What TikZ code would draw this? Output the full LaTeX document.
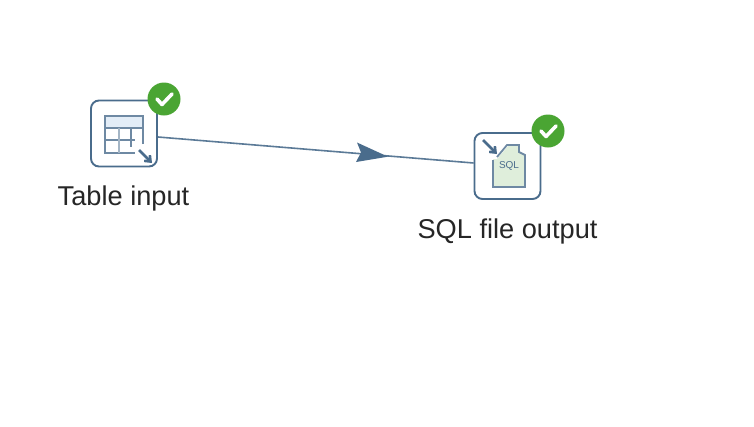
\documentclass[tikz,border=0pt]{standalone}
\usepackage{fontspec}
\setmainfont{Liberation Sans}
\usetikzlibrary{arrows.meta,decorations.markings}
\definecolor{steel}{HTML}{4A6C8C}
\definecolor{okgreen}{HTML}{4AA533}
\definecolor{hdr}{HTML}{E3EDF7}
\definecolor{paper}{HTML}{DFEEDB}
\tikzset{
  x=1pt,y=-1pt,
  stepbox/.style={draw=steel,line width=1.9pt,rounded corners=8pt,minimum width=66pt,minimum height=66pt,fill=white,inner sep=0pt},
  badge/.style={circle,fill=okgreen,minimum size=33pt,inner sep=0pt},
  tick/.style={draw=white,line width=3.6pt,line cap=round,line join=round},
  lbl/.style={font=\fontsize{27.2pt}{30pt}\selectfont,text=black!85,inner sep=0pt,anchor=base},
  hop/.style={draw=steel,line width=1.6pt,opacity=.9},
  iconline/.style={draw=steel!80,line width=1.8pt},
  iconarrow/.style={draw=steel,line width=2.6pt,-{Straight Barb[length=5pt,width=8pt]}}
}
\begin{document}
\begin{tikzpicture}
\useasboundingbox (0,0) rectangle (754,426);
\fill[white] (0,0) rectangle (754,426);
% connector
\node[stepbox] (a) at (124,133.5) {};
\node[stepbox] (b) at (507.5,166) {};
\draw[hop] (a.east |- 0,137) coordinate (s) -- (b.west |- 0,163) coordinate (t);
\fill[steel] (388,156.7) -- (357,142.5) -- (361,152.5) -- (356,162) -- cycle;
% table icon
\fill[hdr] (105,116) rectangle (143,128);
\draw[iconline] (143,144) -- (143,116) -- (105,116) -- (105,153) -- (135,153);
\draw[iconline,line width=1.1pt] (105,128) -- (143,128);
\draw[iconline,line width=1.1pt] (105,140) -- (135,140);
\draw[draw=steel!50,line width=2.4pt] (119,128) -- (119,153);
\draw[iconline,line width=1.1pt] (131,128) -- (131,147);
\draw[iconarrow] (139,150) -- (152,163);
% sql icon
\fill[paper] (497,159) -- (509,145) -- (519,145) -- (519,152) -- (525,154) -- (525,186) -- (493,186) -- (493,159) -- cycle;
\draw[iconline] (493,160) -- (493,187) -- (525,187) -- (525,155) -- (519,152) -- (519,145) -- (507,145) -- (497,157);
\node[font=\fontsize{10pt}{10pt}\selectfont,text=steel,inner sep=0pt] (sql) at (509,166) {SQL};
\draw[iconarrow] (483,140) -- (497,154);
% badges
\node[badge] (ok1) at (164,99) {};
\draw[tick] (157,99) -- (162,104.5) -- (172,94);
\node[badge] (ok2) at (548,131) {};
\draw[tick] (541,131) -- (546,136.5) -- (556,126);
% labels
\node[lbl] (l1) at (123.5,205) {Table input};
\node[lbl] (l2) at (507.5,238) {SQL file output};
\end{tikzpicture}
\end{document}
